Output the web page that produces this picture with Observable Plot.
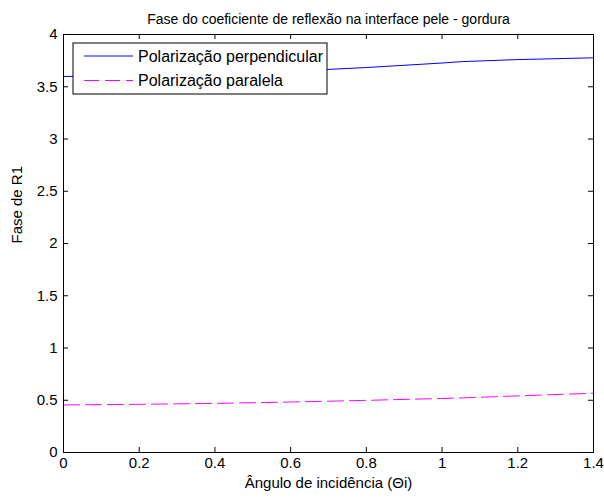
<!DOCTYPE html>
<html>
<head>
<meta charset="utf-8">
<script src="https://cdn.jsdelivr.net/npm/d3@7"></script>
<script src="https://cdn.jsdelivr.net/npm/@observablehq/plot@0.6"></script>
<style>
  html, body { margin: 0; padding: 0; background: #fff; }
  #chart svg { display: block; }
</style>
</head>
<body>
<div id="chart"></div>
<script>
const titleText = "Fase do coeficiente de reflexão na interface pele - gordura";
const xLabel = "Ângulo de incidência (Θi)";
const yLabel = "Fase de R1";
const seriesNames = ["Polarização perpendicular", "Polarização paralela"];

const angles = [0, 0.2, 0.4, 0.6, 0.8, 1.0, 1.05, 1.2, 1.4];
const perpendicular = [3.598, 3.606, 3.622, 3.648, 3.684, 3.727, 3.740, 3.760, 3.777];
const parallel = [0.455, 0.461, 0.470, 0.483, 0.499, 0.517, 0.522, 0.542, 0.567];

const xTicks = [0, 0.2, 0.4, 0.6, 0.8, 1, 1.2, 1.4];
const yTicks = [0, 0.5, 1, 1.5, 2, 2.5, 3, 3.5, 4];

const W = 604, H = 500;
const mL = 63, mR = 11, mT = 34, mB = 48;
const plotW = W - mL - mR, plotH = H - mT - mB;
const tickLen = 5;
const font = "'Liberation Sans', Arial, Helvetica, sans-serif";

const perpData = angles.map((a, i) => ({x: a, y: perpendicular[i]}));
const paraData = angles.map((a, i) => ({x: a, y: parallel[i]}));

const chart = Plot.plot({
  width: W,
  height: H,
  marginLeft: mL,
  marginRight: mR,
  marginTop: mT,
  marginBottom: mB,
  style: {fontFamily: font, fontSize: "15px", color: "#000", background: "#fff", overflow: "visible"},
  x: {domain: [0, 1.4], ticks: xTicks, tickFormat: d3.format("")},
  y: {domain: [0, 4], ticks: yTicks, tickFormat: d3.format("")},
  marks: [
    Plot.lineY(perpData, {x: "x", y: "y", stroke: "#0000ff", strokeWidth: 1}),
    Plot.lineY(paraData, {x: "x", y: "y", stroke: "#ff00ff", strokeWidth: 1, strokeDasharray: "16,6"}),
    // inward ticks on all four sides
    Plot.tickX(xTicks, {x: d => d, stroke: "#000", insetTop: plotH - tickLen}),
    Plot.tickX(xTicks, {x: d => d, stroke: "#000", insetBottom: plotH - tickLen}),
    Plot.tickY(yTicks, {y: d => d, stroke: "#000", insetRight: plotW - tickLen}),
    Plot.tickY(yTicks, {y: d => d, stroke: "#000", insetLeft: plotW - tickLen}),
    Plot.axisX({ticks: xTicks, tickFormat: d3.format(""), tickSize: 0, tickPadding: 5, label: null, fontSize: 15}),
    Plot.axisY({ticks: yTicks, tickFormat: d3.format(""), tickSize: 0, tickPadding: 6, label: null, fontSize: 15}),
    Plot.frame({stroke: "#000", strokeWidth: 1}),
    Plot.text([titleText], {frameAnchor: "top", dy: -20, fontSize: 14, fill: "#000"}),
    Plot.text([xLabel], {frameAnchor: "bottom", dy: 35, fontSize: 15, fill: "#000"}),
    Plot.text([yLabel], {frameAnchor: "left", dx: -46, rotate: -90, fontSize: 15, fill: "#000"})
  ]
});

document.getElementById("chart").appendChild(chart);

// Legend box (top-left, inside the plot area)
const svg = d3.select(chart);
const lg = svg.append("g").attr("transform", `translate(${mL + 10},${mT + 9})`)
  .style("font-family", font).style("font-size", "16px").attr("text-anchor", "start");
lg.append("rect").attr("x", 0).attr("y", 0).attr("width", 254).attr("height", 51)
  .attr("fill", "#fff").attr("stroke", "#000").attr("stroke-width", 1);
const entries = [
  {name: seriesNames[0], color: "#0000ff", dash: null},
  {name: seriesNames[1], color: "#ff00ff", dash: "15,6"}
];
entries.forEach((e, i) => {
  const cy = 13 + i * 24.5;
  lg.append("line").attr("x1", 11).attr("x2", 60).attr("y1", cy).attr("y2", cy)
    .attr("stroke", e.color).attr("stroke-width", 1)
    .attr("stroke-dasharray", e.dash);
  lg.append("text").attr("x", 65).attr("y", cy).attr("dy", "0.35em")
    .attr("text-anchor", "start").attr("fill", "#000").text(e.name);
});
</script>
</body>
</html>
